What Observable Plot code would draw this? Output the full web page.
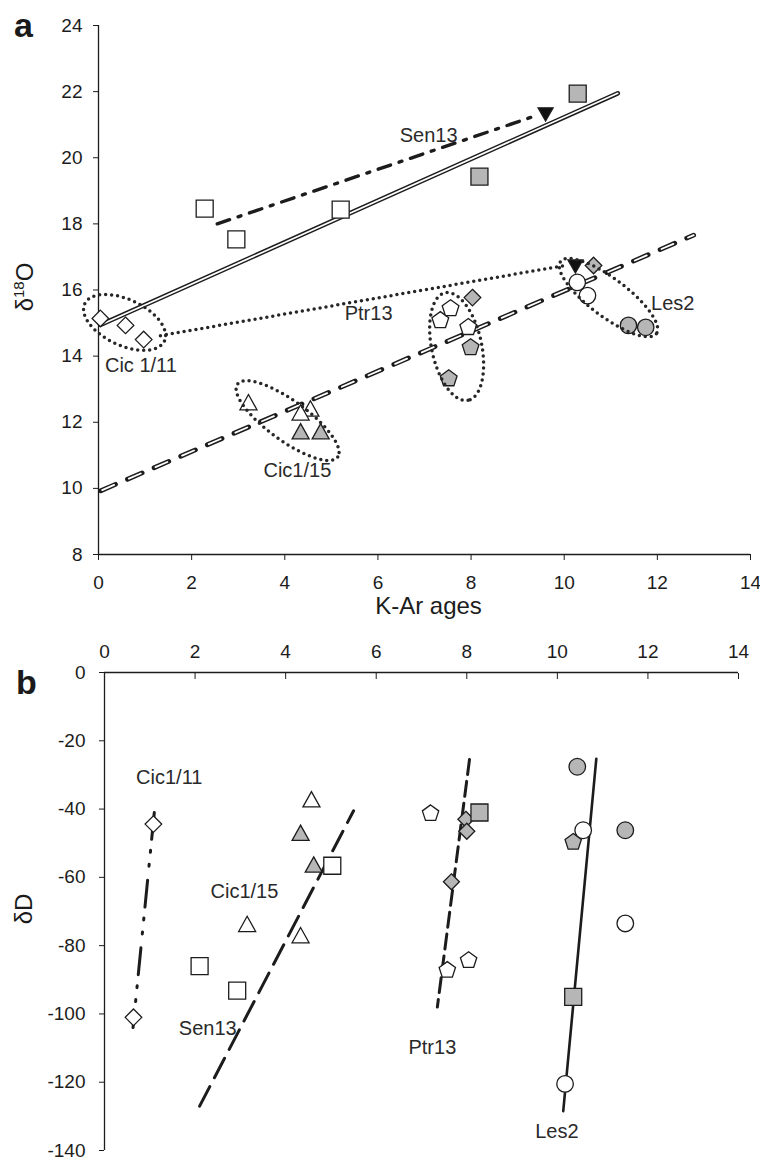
<!DOCTYPE html>
<html><head><meta charset="utf-8">
<script src="https://cdn.jsdelivr.net/npm/d3@7"></script>
<script src="https://cdn.jsdelivr.net/npm/@observablehq/plot@0.6"></script>
<style>
body{margin:0;background:#fff;font-family:"Liberation Sans",Arial,sans-serif;}
#wrap{position:relative;width:760px;height:1161px;overflow:hidden;background:#fff;}
.panel{position:absolute;left:0;}
.lab{position:absolute;color:#1a1a1a;line-height:1;white-space:nowrap;}
.rot{transform:translate(-50%,-50%) rotate(-90deg);font-size:24px;}
.rot sup{font-size:15px;vertical-align:0;position:relative;top:-9px;}
</style></head><body>
<div id="wrap">
  <div id="pa" class="panel" style="top:0"></div>
  <div id="pb" class="panel" style="top:635px"></div>
  <div class="lab" style="left:14px;top:8px;font-size:34px;font-weight:bold">a</div>
  <div class="lab" style="left:16px;top:665px;font-size:34px;font-weight:bold">b</div>
  <div class="lab rot" style="left:25px;top:287px">δ<sup>18</sup>O</div>
  <div class="lab rot" style="left:24px;top:909px">δD</div>
</div>
<script>
// ---------- axis ticks ----------
const X_TICKS = [0, 2, 4, 6, 8, 10, 12, 14];
const Y_TICKS_A = [8, 10, 12, 14, 16, 18, 20, 22, 24];
const Y_TICKS_B = [0, -20, -40, -60, -80, -100, -120, -140];

// ---------- panel a : [K-Ar age, d18O] ----------
const A_CIC111_DIAMOND_OPEN = [[0.04, 15.14], [0.58, 14.93], [0.97, 14.5]];
const A_CIC115_TRI_OPEN = [[3.22, 12.57], [4.55, 12.38], [4.34, 12.26]];
const A_CIC115_TRI_GRAY = [[4.34, 11.69], [4.77, 11.69]];
const A_SEN13_SQ_OPEN = [[2.28, 18.46], [2.96, 17.53], [5.2, 18.43]];
const A_SQ_GRAY = [[8.18, 19.43], [10.29, 21.94]];
const A_PTR13_PENT_OPEN = [[7.34, 15.08], [7.56, 15.44], [7.94, 14.87]];
const A_PTR13_PENT_GRAY = [[7.99, 14.26], [7.52, 13.32]];
const A_LES2_CIRC_OPEN = [[10.28, 16.23], [10.5, 15.83]];
const A_LES2_CIRC_GRAY = [[11.38, 14.93], [11.75, 14.87]];
const A_TRI_BLACK = [[9.6, 21.34], [10.24, 16.74]];
const A_DIAMOND_GRAY = [[8.03, 15.77], [10.63, 16.74]];

const A_LINE_DOUBLE = [[0.05, 14.95], [11.15, 21.95]];
const A_LINE_DASHED_DOUBLE = [[0.05, 9.93], [12.78, 17.66]];
const A_LINE_SEN13 = [[2.55, 18.0], [9.45, 21.3]];
const A_LINE_DOTTED = [[1.33, 14.62], [10.05, 16.75]];

const A_GROUP_CENTERS = {cic111: [0.56, 15.02], cic115: [4.06, 12.05], ptr13: [7.69, 14.29], les2: [10.95, 15.77]};

const A_LABELS = [
  {t: "Sen13", x: 7.09, y: 20.67},
  {t: "Cic 1/11", x: 0.91, y: 13.72},
  {t: "Ptr13", x: 5.8, y: 15.29},
  {t: "Les2", x: 12.33, y: 15.59},
  {t: "Cic1/15", x: 4.27, y: 10.54}
];

// ---------- panel b : [K-Ar age, dD] ----------
const B_CIC111_DIAMOND_OPEN = [[1.08, -44.4], [0.64, -101]];
const B_CIC115_TRI_OPEN = [[4.57, -37.5], [3.15, -74], [4.33, -77.3]];
const B_CIC115_TRI_GRAY = [[4.33, -47.3], [4.62, -56.6]];
const B_SEN13_SQ_OPEN = [[5.03, -56.6], [2.1, -86], [2.93, -93.2]];
const B_DIAMOND_GRAY = [[7.98, -43], [8.0, -46.5], [7.66, -61.3]];
const B_SQ_GRAY = [[8.28, -41], [10.35, -95]];
const B_PTR13_PENT_OPEN = [[7.2, -41.3], [7.57, -87.2], [8.04, -84.3]];
const B_PENT_GRAY = [[10.35, -49.7]];
const B_LES2_CIRC_GRAY = [[10.44, -27.6], [11.5, -46.2]];
const B_LES2_CIRC_OPEN = [[10.57, -46.2], [11.5, -73.5], [10.17, -120.5]];

const B_LINE_CIC111 = [[1.1, -41], [0.63, -104]];
const B_LINE_SEN13 = [[2.1, -127], [5.5, -40.5]];
const B_LINE_PTR13 = [[8.06, -25.5], [7.35, -98]];
const B_LINE_LES2 = [[10.86, -25.3], [10.13, -128.5]];

const B_LABELS = [
  {t: "Cic1/11", x: 1.43, y: -30.8},
  {t: "Cic1/15", x: 3.09, y: -64.2},
  {t: "Sen13", x: 2.28, y: -104.3},
  {t: "Ptr13", x: 7.24, y: -110},
  {t: "Les2", x: 9.99, y: -134.5}
];

// ---------- symbols ----------
const poly = (pts) => ({draw(ctx, size) {
  const h = Math.sqrt(size / Math.PI);
  pts.forEach(([px, py], i) => i ? ctx.lineTo(px * h, py * h) : ctx.moveTo(px * h, py * h));
  ctx.closePath();
}});
const SYM_SQUARE = poly([[-1, -1], [1, -1], [1, 1], [-1, 1]]);
const SYM_DIAMOND = poly([[0, -1], [1, 0], [0, 1], [-1, 0]]);
const SYM_TRI_UP = poly([[0, -1.05], [1, 0.75], [-1, 0.75]]);
const SYM_TRI_DOWN = poly([[-1, -0.75], [1, -0.75], [0, 1.0]]);
const SYM_PENT = poly(d3.range(5).map(i => {const t = -Math.PI / 2 + i * 2 * Math.PI / 5; return [Math.cos(t), Math.sin(t)];}));
const SYM_CIRCLE = {draw(ctx, size) {const h = Math.sqrt(size / Math.PI); ctx.moveTo(h, 0); ctx.arc(0, 0, h, 0, 2 * Math.PI);}};
const ellipseSym = (a, b, deg) => ({draw(ctx) {
  const th = deg * Math.PI / 180;
  for (let i = 0; i <= 90; i++) {
    const t = i / 90 * 2 * Math.PI, ex = a * Math.cos(t), ey = b * Math.sin(t);
    const X = ex * Math.cos(th) - ey * Math.sin(th), Y = ex * Math.sin(th) + ey * Math.cos(th);
    i ? ctx.lineTo(X, Y) : ctx.moveTo(X, Y);
  }
  ctx.closePath();
}});

const INK = "#1c1c1c", GRAY = "#b6b6b6", WHITE = "#ffffff";
const pt = {x: d => d[0], y: d => d[1]};
const dots = (data, symbol, fill, r = 8.5) => Plot.dot(data, {...pt, symbol, fill, stroke: INK, strokeWidth: 1.3, r});
const DOTTED = {stroke: "#262626", strokeWidth: 3.5, strokeDasharray: "0,6", strokeLinecap: "round"};
const ell = (c, a, b, deg) => Plot.dot([c], {...pt, symbol: ellipseSym(a, b, deg), r: 1, fill: "none", ...DOTTED});
const txt = (data) => Plot.text(data, {x: "x", y: "y", text: "t", fontSize: 20, fill: "#2a2a2a"});
const fmt = d => String(d);
const FONT = "'Liberation Sans', Arial, sans-serif";

// ---------- panel a ----------
const pa = Plot.plot({
  width: 760, height: 635,
  marginLeft: 98, marginRight: 10, marginTop: 25, marginBottom: 81,
  x: {domain: [0, 14], label: null},
  y: {domain: [8, 24], label: null},
  style: {fontFamily: FONT, color: INK, background: "white", overflow: "visible"},
  marks: [
    Plot.ruleX([0], {stroke: INK, strokeWidth: 1.3}),
    Plot.ruleY([8], {stroke: INK, strokeWidth: 1.3}),
    Plot.axisX(X_TICKS, {anchor: "bottom", tickSize: 6, tickPadding: 15, fontSize: 19, tickFormat: fmt, label: null}),
    Plot.axisY(Y_TICKS_A, {anchor: "left", tickSize: 5, tickPadding: 11, fontSize: 19, tickFormat: fmt, label: null}),
    Plot.text(["K-Ar ages"], {frameAnchor: "bottom", dx: 4, dy: 59, fontSize: 24, fill: INK}),
    // lines
    Plot.line(A_LINE_DOUBLE, {...pt, stroke: INK, strokeWidth: 4.6}),
    Plot.line(A_LINE_DOUBLE, {...pt, stroke: WHITE, strokeWidth: 1.7}),
    Plot.line(A_LINE_DASHED_DOUBLE, {...pt, stroke: INK, strokeWidth: 4.8, strokeDasharray: "16,13"}),
    Plot.line(A_LINE_DASHED_DOUBLE, {...pt, stroke: WHITE, strokeWidth: 1.8, strokeDasharray: "13,16", strokeDashoffset: -1.5}),
    Plot.line(A_LINE_SEN13, {...pt, stroke: INK, strokeWidth: 3.4, strokeDasharray: "13,9,3,9"}),
    Plot.line(A_LINE_DOTTED, {...pt, ...DOTTED}),
    // markers
    dots(A_CIC111_DIAMOND_OPEN, SYM_DIAMOND, WHITE, 8.3),
    dots(A_CIC115_TRI_OPEN, SYM_TRI_UP, WHITE),
    dots(A_CIC115_TRI_GRAY, SYM_TRI_UP, GRAY),
    dots(A_SEN13_SQ_OPEN, SYM_SQUARE, WHITE),
    dots(A_SQ_GRAY, SYM_SQUARE, GRAY),
    dots(A_PTR13_PENT_OPEN, SYM_PENT, WHITE, 8.8),
    dots(A_PTR13_PENT_GRAY, SYM_PENT, GRAY, 8.8),
    dots(A_LES2_CIRC_OPEN, SYM_CIRCLE, WHITE, 8.2),
    dots(A_LES2_CIRC_GRAY, SYM_CIRCLE, GRAY, 8.2),
    dots(A_TRI_BLACK, SYM_TRI_DOWN, "#111", 7.5),
    dots(A_DIAMOND_GRAY, SYM_DIAMOND, GRAY, 8.3),
    // group ellipses
    ell(A_GROUP_CENTERS.cic111, 44, 23, 25),
    ell(A_GROUP_CENTERS.cic115, 62, 20, 36),
    ell(A_GROUP_CENTERS.ptr13, 55, 25, 78),
    ell(A_GROUP_CENTERS.les2, 60, 19, 37),
    txt(A_LABELS)
  ]
});
document.getElementById("pa").appendChild(pa);

// ---------- panel b ----------
const pb = Plot.plot({
  width: 760, height: 526,
  marginLeft: 104, marginRight: 22, marginTop: 37, marginBottom: 11,
  x: {domain: [0, 14], label: null},
  y: {domain: [-140, 0], label: null},
  style: {fontFamily: FONT, color: INK, background: "white", overflow: "visible"},
  marks: [
    Plot.ruleX([0], {stroke: INK, strokeWidth: 1.3}),
    Plot.ruleY([0], {stroke: INK, strokeWidth: 1.3}),
    Plot.axisX(X_TICKS, {anchor: "top", tickSize: -6, tickPadding: 21, fontSize: 19, tickFormat: fmt, label: null}),
    Plot.axisY(Y_TICKS_B, {anchor: "left", tickSize: 5, tickPadding: 14, fontSize: 19, tickFormat: fmt, label: null}),
    // lines
    Plot.line(B_LINE_CIC111, {...pt, stroke: INK, strokeWidth: 3, strokeDasharray: "27,11,2,12,2,14"}),
    Plot.line(B_LINE_SEN13, {...pt, stroke: INK, strokeWidth: 3, strokeDasharray: "22,10"}),
    Plot.line(B_LINE_PTR13, {...pt, stroke: INK, strokeWidth: 3, strokeDasharray: "15,7"}),
    Plot.line(B_LINE_LES2, {...pt, stroke: INK, strokeWidth: 2.6}),
    // markers
    dots(B_CIC111_DIAMOND_OPEN, SYM_DIAMOND, WHITE, 8.3),
    dots(B_CIC115_TRI_OPEN, SYM_TRI_UP, WHITE),
    dots(B_CIC115_TRI_GRAY, SYM_TRI_UP, GRAY),
    dots(B_SEN13_SQ_OPEN, SYM_SQUARE, WHITE),
    dots(B_DIAMOND_GRAY, SYM_DIAMOND, GRAY, 8),
    dots(B_SQ_GRAY, SYM_SQUARE, GRAY),
    dots(B_PTR13_PENT_OPEN, SYM_PENT, WHITE, 8.6),
    dots(B_PENT_GRAY, SYM_PENT, GRAY, 8.6),
    dots(B_LES2_CIRC_GRAY, SYM_CIRCLE, GRAY, 8.3),
    dots(B_LES2_CIRC_OPEN, SYM_CIRCLE, WHITE, 8.3),
    txt(B_LABELS)
  ]
});
document.getElementById("pb").appendChild(pb);
</script>
</body></html>
